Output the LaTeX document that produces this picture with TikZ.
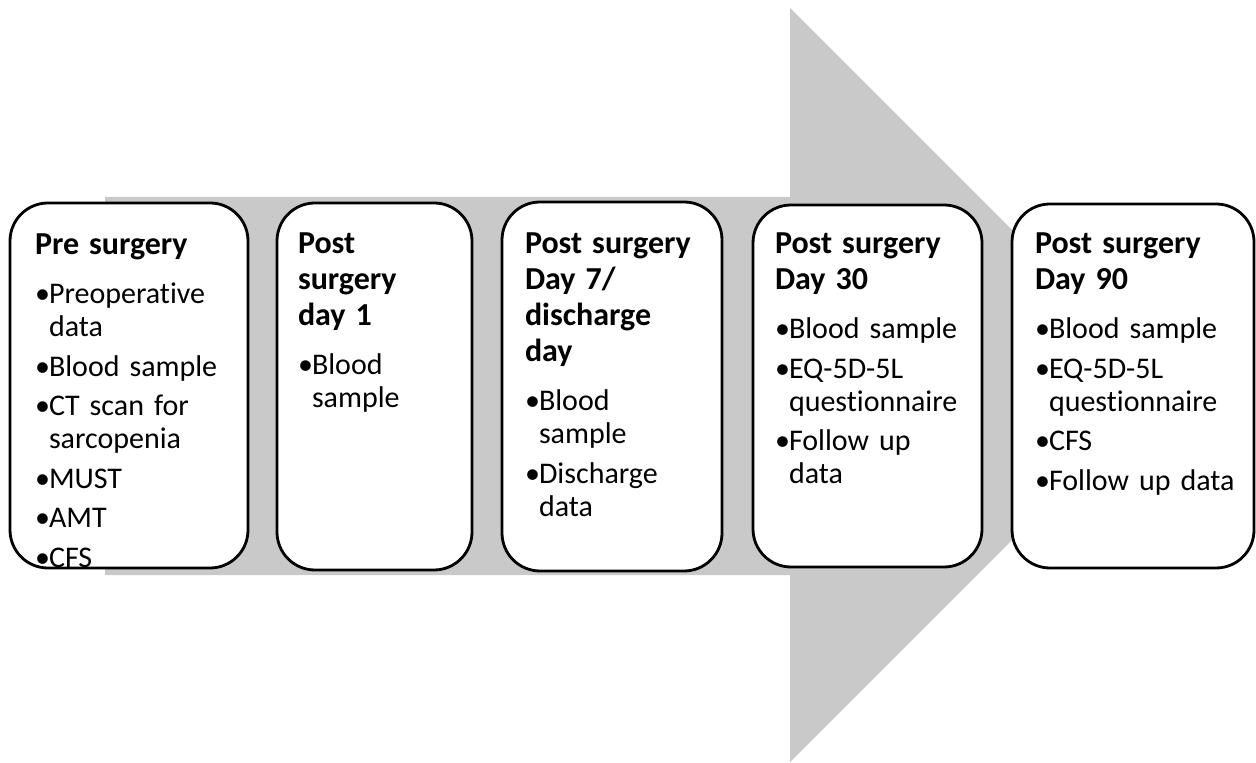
\documentclass[tikz,border=0pt]{standalone}
\usepackage{fontspec}
\setmainfont{Carlito}[Ligatures={NoCommon}]
\usetikzlibrary{positioning}
\definecolor{arrowgray}{RGB}{201,201,201}
\newcommand{\ttl}[1]{{\noindent\bfseries\fontsize{16}{18}\selectfont #1\par}\vspace{4.75pt}}
\newcommand{\bitem}[1]{\par\vspace{3.25pt}\hangindent=7pt\hangafter=1\noindent\makebox[7pt][l]{\textbullet}#1\par}

\begin{document}
\begin{tikzpicture}[
    x=0.5pt, y=-0.5pt,
    stage/.style={draw, line width=1.4pt, fill=white, rounded corners=19pt,
        outer sep=0pt, inner sep=0pt},
    txt/.style={inner sep=0pt, outer sep=0pt, text width=110pt, align=left,
        font=\fontsize{15}{16.5}\selectfont}
    ]

    \useasboundingbox (0,0) rectangle (1256,763);

    \fill[arrowgray] (105,197) -- (790,197) -- (790,8) -- (1167,385)
        -- (790,762) -- (790,575) -- (105,575) -- cycle;

    \node[stage, minimum width=119pt, minimum height=182.5pt] (pre) at (129,385.5) {};
    \node[stage, minimum width=97.5pt, minimum height=183.5pt] (d1) at (374.5,386.5) {};
    \node[stage, minimum width=110pt, minimum height=184.5pt] (d7) at (612,386.5) {};
    \node[stage, minimum width=114.5pt, minimum height=181pt] (d30) at (867.5,386) {};
    \node[stage, minimum width=121pt, minimum height=182pt] (d90) at (1133,386) {};

    \node[txt, below right=15.5pt and 12.5pt of pre.north west] (pre-t) {%
        \ttl{Pre surgery}%
        \bitem{Preoperative\newline data}%
        \bitem{Blood sample}%
        \bitem{CT scan for\newline sarcopenia}%
        \bitem{MUST}%
        \bitem{AMT}%
        \bitem{CFS}};
    \node[txt, below right=15pt and 10.5pt of d1.north west] (d1-t) {%
        \ttl{Post\newline surgery\newline day 1}%
        \bitem{Blood\newline sample}};
    \node[txt, below right=15.5pt and 11.5pt of d7.north west] (d7-t) {%
        \ttl{Post surgery\newline Day 7/\newline discharge\newline day}%
        \bitem{Blood\newline sample}%
        \bitem{Discharge\newline data}};
    \node[txt, below right=14pt and 11pt of d30.north west] (d30-t) {%
        \ttl{Post surgery\newline Day 30}%
        \bitem{Blood sample}%
        \bitem{EQ-5D-5L\newline questionnaire}%
        \bitem{Follow up\newline data}};
    \node[txt, below right=14.5pt and 11.5pt of d90.north west] (d90-t) {%
        \ttl{Post surgery\newline Day 90}%
        \bitem{Blood sample}%
        \bitem{EQ-5D-5L\newline questionnaire}%
        \bitem{CFS}%
        \bitem{Follow up data}};

\end{tikzpicture}
\end{document}
